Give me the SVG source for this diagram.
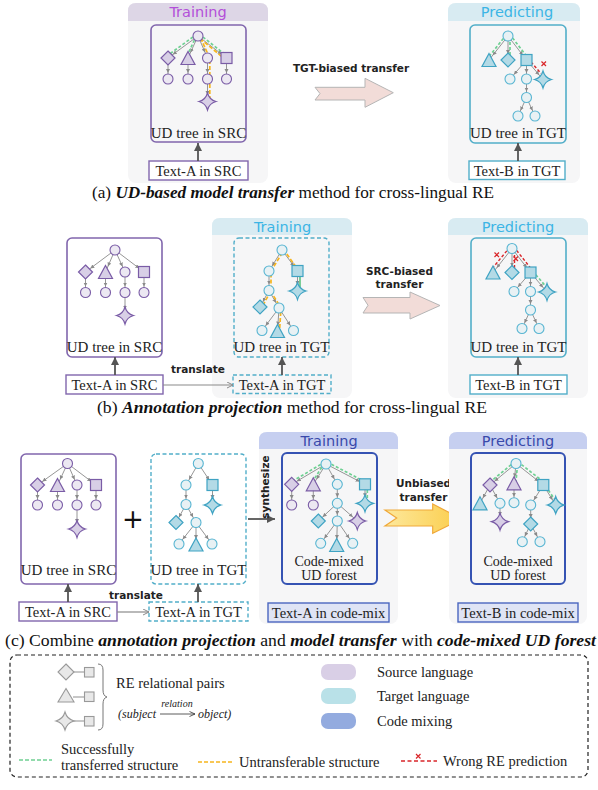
<svg xmlns="http://www.w3.org/2000/svg" width="598" height="790" viewBox="0 0 598 790">
<defs>
<style>
.s{fill:#d8cfe6;stroke:#7a5ca6;stroke-width:1.2}
.sc{fill:#ece8f2;stroke:#7a5ca6;stroke-width:1.1}
.t{fill:#b3dae6;stroke:#3fa3c3;stroke-width:1.2}
.tc{fill:#e8f1f4;stroke:#58b5d2;stroke-width:1.1}
.gr{fill:#e8e8e8;stroke:#999;stroke-width:1.1}
.e{stroke:#8a8a8a;stroke-width:0.9;fill:none;marker-end:url(#ea)}
.g{stroke:#6fd093;stroke-width:1.7;stroke-dasharray:3 2;fill:none}
.y{stroke:#f6b51e;stroke-width:1.7;stroke-dasharray:4 2;fill:none}
.r{stroke:#d9262a;stroke-width:1.4;stroke-dasharray:3 2;fill:none}
.x{stroke:#d9262a;stroke-width:1.2;fill:none}
.up{stroke:#555;stroke-width:1.8;marker-end:url(#ba)}
.tr{stroke:#8a8a8a;stroke-width:1.2;marker-end:url(#ta)}
.lbl{font-family:"Liberation Serif","Times New Roman",serif;font-size:15px;fill:#222;text-anchor:middle}
.cmx{font-family:"Liberation Serif","Times New Roman",serif;font-size:14px;fill:#222;text-anchor:middle}
.tb{font-family:"Liberation Serif","Times New Roman",serif;font-size:14.5px;fill:#222;text-anchor:middle}
.cap{font-family:"Liberation Serif","Times New Roman",serif;font-size:17px;fill:#111}
.lg{font-family:"Liberation Serif","Times New Roman",serif;font-size:14.5px;fill:#222}
.hd{font-family:"DejaVu Sans",sans-serif;font-size:14.5px;text-anchor:middle}
.cm{font-family:"DejaVu Sans",sans-serif;font-weight:bold;font-size:10.5px;fill:#222;text-anchor:middle}
.pnl{fill:#f6f6f7}
.bs{fill:none;stroke:#8166ad;stroke-width:1.6}
.bt{fill:none;stroke:#52aec9;stroke-width:1.6}
.btd{fill:none;stroke:#52aec9;stroke-width:1.4;stroke-dasharray:4 2.5}
.bc{fill:none;stroke:#3553b3;stroke-width:2}
</style>
<marker id="ea" markerUnits="userSpaceOnUse" markerWidth="5" markerHeight="5" refX="10" refY="2" orient="auto"><path d="M0,0 L4,2 L0,4Z" fill="#8a8a8a"/></marker>
<marker id="ba" markerUnits="userSpaceOnUse" markerWidth="9" markerHeight="9" refX="8" refY="4" orient="auto"><path d="M0,0 L8,4 L0,8Z" fill="#555"/></marker>
<marker id="ta" markerUnits="userSpaceOnUse" markerWidth="8" markerHeight="8" refX="6.5" refY="3.5" orient="auto"><path d="M0.5,0.5 L6.5,3.5 L0.5,6.5" fill="none" stroke="#8a8a8a" stroke-width="1"/></marker>
<marker id="la" markerUnits="userSpaceOnUse" markerWidth="7" markerHeight="7" refX="6" refY="3" orient="auto"><path d="M0.5,0.5 L6,3 L0.5,5.5" fill="none" stroke="#333" stroke-width="0.8"/></marker>
<linearGradient id="yg" x1="0" x2="1" y1="0" y2="0"><stop offset="0" stop-color="#fde89c"/><stop offset="1" stop-color="#fbcd4a"/></linearGradient>
<circle id="cir" r="5"/>
<path id="dia" d="M0,-7 L7,0 L0,7 L-7,0Z"/>
<path id="tri" d="M0,-7.5 L7,5.5 L-7,5.5Z"/>
<rect id="sq" x="-5.5" y="-5.5" width="11" height="11"/>
<path id="star" d="M0,-8.5 Q1.8,-1.8 8.5,0 Q1.8,1.8 0,8.5 Q-1.8,1.8 -8.5,0 Q-1.8,-1.8 0,-8.5Z"/>
</defs>
<rect width="598" height="790" fill="#fff"/>

<!-- ===== (a) ===== -->
<g id="a-training">
<rect class="pnl" x="128" y="3" width="140" height="180" rx="8"/>
<path d="M128,11 Q128,3 136,3 H260 Q268,3 268,11 V21 H128Z" fill="#ddd6e6"/>
<text class="hd" x="198" y="17" fill="#b34fd9">Training</text>
<rect class="bs" x="151" y="25" width="95" height="117" rx="5"/>
<g>
<line class="e" x1="198" y1="36" x2="168" y2="58"/>
<line class="e" x1="198" y1="36" x2="188" y2="58"/>
<line class="e" x1="198" y1="36" x2="207.5" y2="58"/>
<line class="e" x1="198" y1="36" x2="226.5" y2="58"/>
<line class="e" x1="168" y1="58" x2="168" y2="79"/>
<line class="e" x1="188" y1="58" x2="188" y2="79"/>
<line class="e" x1="207.5" y1="58" x2="207.5" y2="79"/>
<line class="e" x1="226.5" y1="58" x2="226.5" y2="79"/>
<line class="e" x1="207.5" y1="79" x2="207.5" y2="101"/>
<line class="g" x1="197" y1="34" x2="167" y2="56"/>
<line class="g" x1="196.5" y1="35.5" x2="186.5" y2="57"/>
<line class="g" x1="199" y1="34" x2="227" y2="56"/>
<line class="y" x1="200" y1="38.5" x2="226" y2="60"/>
<polyline class="y" points="200.5,38 209.8,58 209.8,101"/>
<use href="#cir" x="198" y="36" class="sc"/>
<use href="#dia" x="168" y="58" class="s"/>
<use href="#tri" x="188" y="59" class="s"/>
<use href="#cir" x="207.5" y="58" class="sc"/>
<use href="#sq" x="226.5" y="58" class="s"/>
<use href="#cir" x="168" y="79" class="sc"/>
<use href="#cir" x="188" y="79" class="sc"/>
<use href="#cir" x="207.5" y="79" class="sc"/>
<use href="#cir" x="226.5" y="79" class="sc"/>
<use href="#star" x="207.5" y="101.5" class="s"/>
</g>
<text class="lbl" x="198.5" y="138">UD tree in SRC</text>
<rect x="149" y="161" width="99" height="19" fill="#fff" stroke="#8166ad" stroke-width="1.4"/>
<text class="tb" x="198.5" y="175.5">Text-A in SRC</text>
<line class="up" x1="198" y1="161" x2="198" y2="143"/>
</g>

<g id="a-transfer">
<text class="cm" x="351" y="72">TGT-biased transfer</text>
<polygon points="315,87.3 365,87.3 365,78.3 393.3,92.7 365,107.3 365,100 315,100 320,93.6" fill="#f2dcd8" stroke="#b5b5b5" stroke-width="1"/>
</g>

<g id="a-predicting">
<rect class="pnl" x="448" y="3" width="132" height="180" rx="8"/>
<path d="M448,11 Q448,3 456,3 H572 Q580,3 580,11 V21 H448Z" fill="#d8ebf2"/>
<text class="hd" x="517" y="17" fill="#3cb5e5">Predicting</text>
<rect class="bt" x="470" y="25" width="96" height="118" rx="5"/>
<g>
<line class="e" x1="508" y1="36" x2="489" y2="60"/>
<line class="e" x1="508" y1="36" x2="508" y2="60"/>
<line class="e" x1="508" y1="36" x2="526.5" y2="60"/>
<line class="e" x1="526.5" y1="60" x2="510" y2="79"/>
<line class="e" x1="526.5" y1="60" x2="526.5" y2="79"/>
<line class="e" x1="526.5" y1="60" x2="543" y2="79.5"/>
<line class="e" x1="526.5" y1="79" x2="526.5" y2="97.5"/>
<line class="e" x1="526.5" y1="97.5" x2="518" y2="116"/>
<line class="e" x1="526.5" y1="97.5" x2="535" y2="116"/>
<line class="g" x1="506.5" y1="34.5" x2="487.5" y2="58.5"/>
<line class="g" x1="510" y1="37" x2="510" y2="59"/>
<line class="g" x1="509.5" y1="34" x2="528" y2="58"/>
<line class="r" x1="531" y1="62" x2="541" y2="73.5"/>
<path class="x" d="M541.5,61.5 L546,66 M546,61.5 L541.5,66"/>
<use href="#cir" x="508" y="36" class="tc"/>
<use href="#tri" x="489" y="61" class="t"/>
<use href="#dia" x="508" y="60" class="t"/>
<use href="#sq" x="526.5" y="60" class="t"/>
<use href="#cir" x="510" y="79" class="tc"/>
<use href="#cir" x="526.5" y="79" class="tc"/>
<use href="#star" x="543" y="79.5" class="t"/>
<use href="#cir" x="526.5" y="97.5" class="tc"/>
<use href="#cir" x="518" y="116" class="tc"/>
<use href="#cir" x="535" y="116" class="tc"/>
</g>
<text class="lbl" x="518" y="138">UD tree in TGT</text>
<rect x="469" y="161" width="96" height="18.5" fill="#fff" stroke="#52aec9" stroke-width="1.4"/>
<text class="tb" x="517" y="175.5">Text-B in TGT</text>
<line class="up" x1="518" y1="161" x2="518" y2="143"/>
</g>

<text class="cap" x="92" y="198" textLength="402" lengthAdjust="spacingAndGlyphs">(a) <tspan font-weight="bold" font-style="italic">UD-based model transfer</tspan> method for cross-lingual RE</text>

<!-- ===== (b) ===== -->
<g id="b-src">
<rect x="67" y="238" width="95" height="119" rx="5" fill="#fff" class="bs"/>
<line class="e" x1="115" y1="250" x2="85.5" y2="272"/>
<line class="e" x1="115" y1="250" x2="105.5" y2="272"/>
<line class="e" x1="115" y1="250" x2="125" y2="272"/>
<line class="e" x1="115" y1="250" x2="144" y2="272"/>
<line class="e" x1="85.5" y1="272" x2="85.5" y2="292.5"/>
<line class="e" x1="105.5" y1="272" x2="105.5" y2="292.5"/>
<line class="e" x1="125" y1="272" x2="125" y2="292.5"/>
<line class="e" x1="144" y1="272" x2="144" y2="292.5"/>
<line class="e" x1="125" y1="292.5" x2="125" y2="315.5"/>
<use href="#cir" x="115" y="250" class="sc"/>
<use href="#dia" x="85.5" y="272" class="s"/>
<use href="#tri" x="105.5" y="273" class="s"/>
<use href="#cir" x="125" y="272" class="sc"/>
<use href="#sq" x="144" y="272" class="s"/>
<use href="#cir" x="85.5" y="292.5" class="sc"/>
<use href="#cir" x="105.5" y="292.5" class="sc"/>
<use href="#cir" x="125" y="292.5" class="sc"/>
<use href="#cir" x="144" y="292.5" class="sc"/>
<use href="#star" x="125" y="315.5" class="s"/>
<text class="lbl" x="114.5" y="352">UD tree in SRC</text>
<rect x="66" y="375" width="97" height="19" fill="#fff" stroke="#8166ad" stroke-width="1.4"/>
<text class="tb" x="114.5" y="389.5">Text-A in SRC</text>
<line class="up" x1="115" y1="375" x2="115" y2="357"/>
</g>

<g id="b-training">
<rect class="pnl" x="212" y="218" width="140" height="180" rx="8"/>
<path d="M212,226 Q212,218 220,218 H344 Q352,218 352,226 V235 H212Z" fill="#d8ebf2"/>
<text class="hd" x="282.5" y="232" fill="#3cb5e5">Training</text>
<rect class="btd" x="234" y="238" width="95" height="119" rx="5"/>
<line class="e" x1="282" y1="250" x2="269" y2="271"/>
<line class="e" x1="282" y1="250" x2="297.5" y2="271"/>
<line class="e" x1="269" y1="271" x2="269" y2="290.5"/>
<line class="e" x1="297.5" y1="271" x2="297.5" y2="291"/>
<line class="e" x1="269" y1="290.5" x2="260" y2="307"/>
<line class="e" x1="269" y1="290.5" x2="279" y2="308"/>
<line class="e" x1="279" y1="308" x2="262" y2="330.5"/>
<line class="e" x1="279" y1="308" x2="277.5" y2="331.5"/>
<line class="e" x1="279" y1="308" x2="293.5" y2="330.5"/>
<polyline class="y" points="299.5,272 284,250 271,271 271,290.5 262,307"/>
<polyline class="y" points="270.5,291 281,308 279.5,331"/>
<line x1="300" y1="271" x2="300" y2="291" stroke="#5cc47f" stroke-width="1.6"/>
<use href="#cir" x="282" y="250" class="tc"/>
<use href="#cir" x="269" y="271" class="tc"/>
<use href="#sq" x="297.5" y="271" class="t"/>
<use href="#cir" x="269" y="290.5" class="tc"/>
<use href="#star" x="297.5" y="291" class="t"/>
<use href="#dia" x="260" y="307" class="t"/>
<use href="#cir" x="279" y="308" class="tc"/>
<use href="#cir" x="262" y="330.5" class="tc"/>
<use href="#tri" x="277.5" y="332" class="t"/>
<use href="#cir" x="293.5" y="330.5" class="tc"/>
<text class="lbl" x="281.5" y="352">UD tree in TGT</text>
<rect x="233" y="375" width="98" height="18.5" fill="#f3f9fb" class="btd"/>
<text class="tb" x="282" y="389.5">Text-A in TGT</text>
<line class="up" x1="282" y1="375" x2="282" y2="357"/>
</g>

<g id="b-transfer">
<text class="cm" x="399.5" y="275">SRC-biased</text>
<text class="cm" x="399.5" y="288">transfer</text>
<polygon points="363,297.5 410,297.5 410,292 440,305.5 410,319 410,313 363,313 368,305.3" fill="#f2dcd8" stroke="#b5b5b5" stroke-width="1"/>
</g>

<g id="b-predicting">
<rect class="pnl" x="448" y="218" width="140" height="180" rx="8"/>
<path d="M448,226 Q448,218 456,218 H580 Q588,218 588,226 V235 H448Z" fill="#d8ebf2"/>
<text class="hd" x="518" y="232" fill="#3cb5e5">Predicting</text>
<rect class="bt" x="471" y="238" width="95" height="119" rx="5"/>
<line class="e" x1="512" y1="248.5" x2="493" y2="272.5"/>
<line class="e" x1="512" y1="248.5" x2="512" y2="272.5"/>
<line class="e" x1="512" y1="248.5" x2="530.5" y2="272.5"/>
<line class="e" x1="530.5" y1="272.5" x2="514" y2="291.5"/>
<line class="e" x1="530.5" y1="272.5" x2="530.5" y2="291.5"/>
<line class="e" x1="530.5" y1="272.5" x2="547" y2="292"/>
<line class="e" x1="530.5" y1="291.5" x2="530.5" y2="310"/>
<line class="e" x1="530.5" y1="310" x2="522" y2="328.5"/>
<line class="e" x1="530.5" y1="310" x2="539" y2="328.5"/>
<line class="r" x1="510" y1="247" x2="491" y2="270"/>
<line class="r" x1="514.5" y1="250" x2="514.5" y2="271"/>
<line class="r" x1="513.5" y1="246.5" x2="532.5" y2="270.5"/>
<line class="g" x1="532.5" y1="271" x2="549" y2="290"/>
<path class="x" d="M494.5,252.5 L499,257 M499,252.5 L494.5,257"/>
<path class="x" d="M513.5,256.5 L518,261 M518,256.5 L513.5,261"/>
<use href="#cir" x="512" y="248.5" class="tc"/>
<use href="#tri" x="493" y="273.5" class="t"/>
<use href="#dia" x="512" y="272.5" class="t"/>
<use href="#sq" x="530.5" y="272.5" class="t"/>
<use href="#cir" x="514" y="291.5" class="tc"/>
<use href="#cir" x="530.5" y="291.5" class="tc"/>
<use href="#star" x="547" y="292" class="t"/>
<use href="#cir" x="530.5" y="310" class="tc"/>
<use href="#cir" x="522" y="328.5" class="tc"/>
<use href="#cir" x="539" y="328.5" class="tc"/>
<text class="lbl" x="518.5" y="352">UD tree in TGT</text>
<rect x="470" y="375" width="97" height="19" fill="#fff" stroke="#52aec9" stroke-width="1.4"/>
<text class="tb" x="518.5" y="389.5">Text-B in TGT</text>
<line class="up" x1="518" y1="375" x2="518" y2="357"/>
</g>

<g id="b-translate">
<line class="tr" x1="163" y1="385" x2="233" y2="385"/>
<text class="cm" x="198" y="373">translate</text>
</g>

<text class="cap" x="97" y="413" textLength="390" lengthAdjust="spacingAndGlyphs">(b) <tspan font-weight="bold" font-style="italic">Annotation projection</tspan> method for cross-lingual RE</text>

<!-- ===== (c) ===== -->
<g id="c-src">
<rect x="21" y="454" width="95" height="130" rx="5" fill="#fff" class="bs"/>
<line class="e" x1="67.5" y1="463.5" x2="37.5" y2="485"/>
<line class="e" x1="67.5" y1="463.5" x2="57.5" y2="485"/>
<line class="e" x1="67.5" y1="463.5" x2="77" y2="485"/>
<line class="e" x1="67.5" y1="463.5" x2="96" y2="485"/>
<line class="e" x1="37.5" y1="485" x2="37.5" y2="505"/>
<line class="e" x1="57.5" y1="485" x2="57.5" y2="505"/>
<line class="e" x1="77" y1="485" x2="77" y2="505"/>
<line class="e" x1="96" y1="485" x2="96" y2="505"/>
<line class="e" x1="77" y1="505" x2="77" y2="529"/>
<use href="#cir" x="67.5" y="463.5" class="sc"/>
<use href="#dia" x="37.5" y="485" class="s"/>
<use href="#tri" x="57.5" y="486" class="s"/>
<use href="#cir" x="77" y="485" class="sc"/>
<use href="#sq" x="96" y="485" class="s"/>
<use href="#cir" x="37.5" y="505" class="sc"/>
<use href="#cir" x="57.5" y="505" class="sc"/>
<use href="#cir" x="77" y="505" class="sc"/>
<use href="#cir" x="96" y="505" class="sc"/>
<use href="#star" x="77" y="529" class="s"/>
<text class="lbl" x="68.5" y="575">UD tree in SRC</text>
<rect x="19" y="602" width="98" height="19" fill="#fff" stroke="#8166ad" stroke-width="1.4"/>
<text class="tb" x="68" y="616.5">Text-A in SRC</text>
<line class="up" x1="68" y1="602" x2="68" y2="584"/>
</g>

<text x="133" y="528" font-family="DejaVu Sans, sans-serif" font-size="26" text-anchor="middle" fill="#111">+</text>

<g id="c-tgt">
<rect x="151" y="454" width="95" height="130" rx="5" fill="#fff" class="btd"/>
<line class="e" x1="198.3" y1="463.5" x2="186" y2="485"/>
<line class="e" x1="198.3" y1="463.5" x2="212.5" y2="485"/>
<line class="e" x1="186" y1="485" x2="186" y2="504.5"/>
<line class="e" x1="212.5" y1="485" x2="212.5" y2="505"/>
<line class="e" x1="186" y1="504.5" x2="176" y2="522.5"/>
<line class="e" x1="186" y1="504.5" x2="196" y2="522.5"/>
<line class="e" x1="196" y1="522.5" x2="179" y2="544"/>
<line class="e" x1="196" y1="522.5" x2="196" y2="545"/>
<line class="e" x1="196" y1="522.5" x2="212" y2="544"/>
<use href="#cir" x="198.3" y="463.5" class="tc"/>
<use href="#cir" x="186" y="485" class="tc"/>
<use href="#sq" x="212.5" y="485" class="t"/>
<use href="#cir" x="186" y="504.5" class="tc"/>
<use href="#star" x="212.5" y="505" class="t"/>
<use href="#dia" x="176" y="522.5" class="t"/>
<use href="#cir" x="196" y="522.5" class="tc"/>
<use href="#cir" x="179" y="544" class="tc"/>
<use href="#tri" x="196" y="545.5" class="t"/>
<use href="#cir" x="212" y="544" class="tc"/>
<text class="lbl" x="198.5" y="575">UD tree in TGT</text>
<rect x="149" y="602" width="99" height="19" fill="#eef8fb" class="btd"/>
<text class="tb" x="198.5" y="616.5">Text-A in TGT</text>
<line class="up" x1="198" y1="602" x2="198" y2="584"/>
</g>

<g id="c-translate">
<line class="tr" x1="117" y1="612" x2="149" y2="612"/>
<text class="cm" x="136" y="599">translate</text>
</g>

<g id="c-training">
<rect class="pnl" x="259" y="432" width="139" height="192" rx="8"/>
<path d="M259,440 Q259,432 267,432 H390 Q398,432 398,440 V449 H259Z" fill="#c6cff0"/>
<text class="hd" x="329" y="446" fill="#3949ab">Training</text>
<rect class="bc" x="282" y="453" width="95" height="131" rx="5"/>
<line class="e" x1="326" y1="464" x2="291.7" y2="484.3"/>
<line class="e" x1="326" y1="464" x2="313.3" y2="484.3"/>
<line class="e" x1="326" y1="464" x2="337.3" y2="484.3"/>
<line class="e" x1="326" y1="464" x2="365" y2="484.3"/>
<line class="e" x1="291.7" y1="484.3" x2="291.7" y2="505"/>
<line class="e" x1="313.3" y1="484.3" x2="313.3" y2="505"/>
<line class="e" x1="337.3" y1="484.3" x2="337.3" y2="503.3"/>
<line class="e" x1="365" y1="484.3" x2="365" y2="503.3"/>
<line class="e" x1="337.3" y1="503.3" x2="318.3" y2="521"/>
<line class="e" x1="337.3" y1="503.3" x2="337.3" y2="521"/>
<line class="e" x1="337.3" y1="503.3" x2="357.3" y2="521"/>
<line class="e" x1="337.3" y1="521" x2="320.7" y2="543.3"/>
<line class="e" x1="337.3" y1="521" x2="336.7" y2="545"/>
<line class="e" x1="337.3" y1="521" x2="352.7" y2="543.3"/>
<line class="g" x1="325" y1="462" x2="291" y2="482"/>
<line class="g" x1="324.5" y1="463" x2="312" y2="482.5"/>
<line class="g" x1="327" y1="462" x2="366" y2="482.3"/>
<line class="g" x1="367.3" y1="485" x2="367.3" y2="503"/>
<use href="#cir" x="326" y="464" class="tc"/>
<use href="#dia" x="291.7" y="484.3" class="s"/>
<use href="#tri" x="313.3" y="485.3" class="s"/>
<use href="#cir" x="337.3" y="484.3" class="tc"/>
<use href="#sq" x="365" y="484.3" class="t"/>
<use href="#cir" x="291.7" y="505" class="sc"/>
<use href="#cir" x="313.3" y="505" class="sc"/>
<use href="#cir" x="337.3" y="503.3" class="tc"/>
<use href="#star" x="365" y="503.3" class="t"/>
<use href="#dia" x="318.3" y="521" class="t"/>
<use href="#cir" x="337.3" y="521" class="tc"/>
<use href="#star" x="357.3" y="521" class="s"/>
<use href="#cir" x="320.7" y="543.3" class="tc"/>
<use href="#tri" x="336.7" y="546" class="t"/>
<use href="#cir" x="352.7" y="543.3" class="tc"/>
<text class="cmx" x="329" y="565.5">Code-mixed</text>
<text class="cmx" x="329" y="580">UD forest</text>
<rect x="268" y="603" width="121" height="19" fill="#dfe4f5" stroke="#4a66bf" stroke-width="1.4"/>
<text class="tb" x="328.5" y="617.5">Text-A in code-mix</text>
</g>

<g id="c-synthesize">
<line class="up" x1="248" y1="519" x2="275" y2="519"/>
<text class="cm" transform="translate(269,487) rotate(-90)" x="0" y="0">synthesize</text>
</g>

<g id="c-transfer">
<text class="cm" x="423.5" y="487">Unbiased</text>
<text class="cm" x="423.5" y="501">transfer</text>
<polygon points="385,510 432.7,510 432.7,504 461.7,519 432.7,533.3 432.7,526 385,526 396.7,518" fill="url(#yg)" stroke="#f0a93a" stroke-width="1.2"/>
</g>

<g id="c-predicting">
<rect class="pnl" x="449" y="432" width="138" height="192" rx="8"/>
<path d="M449,440 Q449,432 457,432 H579 Q587,432 587,440 V449 H449Z" fill="#c6cff0"/>
<text class="hd" x="518" y="446" fill="#3949ab">Predicting</text>
<rect class="bc" x="471" y="453" width="94" height="131" rx="5"/>
<line class="e" x1="516" y1="463.5" x2="490" y2="485"/>
<line class="e" x1="516" y1="463.5" x2="514" y2="483.3"/>
<line class="e" x1="516" y1="463.5" x2="543.3" y2="485"/>
<line class="e" x1="490" y1="485" x2="480" y2="503.3"/>
<line class="e" x1="490" y1="485" x2="500" y2="503.3"/>
<line class="e" x1="514" y1="483.3" x2="514" y2="502.7"/>
<line class="e" x1="543.3" y1="485" x2="530.7" y2="505"/>
<line class="e" x1="543.3" y1="485" x2="555.7" y2="505"/>
<line class="e" x1="500" y1="503.3" x2="500" y2="521.7"/>
<line class="e" x1="530.7" y1="505" x2="530.7" y2="524"/>
<line class="e" x1="530.7" y1="524" x2="522.3" y2="541.7"/>
<line class="e" x1="530.7" y1="524" x2="540" y2="541.7"/>
<line class="g" x1="515" y1="461.5" x2="489" y2="483"/>
<line class="g" x1="517.5" y1="465" x2="516" y2="481"/>
<line class="g" x1="517.5" y1="461.5" x2="545" y2="483"/>
<line class="g" x1="545.5" y1="486" x2="557.5" y2="503.5"/>
<use href="#cir" x="516" y="463.5" class="tc"/>
<use href="#dia" x="490" y="485" class="s"/>
<use href="#tri" x="514" y="484.3" class="s"/>
<use href="#sq" x="543.3" y="485" class="t"/>
<use href="#tri" x="480" y="504.3" class="t"/>
<use href="#cir" x="500" y="503.3" class="tc"/>
<use href="#cir" x="514" y="502.7" class="tc"/>
<use href="#cir" x="530.7" y="505" class="tc"/>
<use href="#star" x="555.7" y="505" class="t"/>
<use href="#star" x="500" y="521.7" class="s"/>
<use href="#dia" x="530.7" y="524" class="t"/>
<use href="#cir" x="522.3" y="541.7" class="tc"/>
<use href="#cir" x="540" y="541.7" class="tc"/>
<text class="cmx" x="518" y="565.5">Code-mixed</text>
<text class="cmx" x="518" y="580">UD forest</text>
<rect x="458" y="603" width="120" height="19" fill="#dfe4f5" stroke="#4a66bf" stroke-width="1.4"/>
<text class="tb" x="518" y="617.5">Text-B in code-mix</text>
</g>

<text class="cap" x="5" y="646" textLength="591" lengthAdjust="spacingAndGlyphs">(c) Combine <tspan font-weight="bold" font-style="italic">annotation projection</tspan> and <tspan font-weight="bold" font-style="italic">model transfer</tspan> with <tspan font-weight="bold" font-style="italic">code-mixed UD forest</tspan></text>

<!-- ===== Legend ===== -->
<g id="legend">
<rect x="10" y="655" width="578" height="122" rx="7" fill="none" stroke="#222" stroke-width="1.2" stroke-dasharray="4 3"/>
<line x1="73" y1="672" x2="85" y2="672" stroke="#999" stroke-width="1.1"/>
<line x1="73" y1="697" x2="85" y2="697" stroke="#999" stroke-width="1.1"/>
<line x1="73" y1="721" x2="85" y2="721" stroke="#999" stroke-width="1.1"/>
<path class="gr" d="M66,664 L74,672 L66,680 L58,672Z"/>
<path class="gr" d="M66,688.5 L74,702 L58,702Z"/>
<path class="gr" d="M65,712 Q67,719 74,721 Q67,723 65,730 Q63,723 56,721 Q63,719 65,712Z"/>
<rect class="gr" x="84.5" y="667.5" width="9.5" height="9.5"/>
<rect class="gr" x="84.5" y="692" width="9.5" height="9.5"/>
<rect class="gr" x="84.5" y="716.5" width="9.5" height="9.5"/>
<path d="M98,664 Q103,664 103,670 L103,690 Q103,696 107,697 Q103,698 103,704 L103,724 Q103,730 98,730" fill="none" stroke="#777" stroke-width="1"/>
<text class="lg" x="116" y="688">RE relational pairs</text>
<text x="118" y="718" font-family="Liberation Serif, serif" font-size="12" font-style="italic" fill="#222">(subject</text>
<line x1="160" y1="714" x2="195" y2="714" stroke="#333" stroke-width="0.8" marker-end="url(#la)"/>
<text x="177" y="707" font-family="Liberation Serif, serif" font-size="10" font-style="italic" fill="#222" text-anchor="middle">relation</text>
<text x="198" y="718" font-family="Liberation Serif, serif" font-size="12" font-style="italic" fill="#222">object)</text>
<rect x="321" y="664" width="35" height="16" rx="7" fill="#d9cfe6"/>
<rect x="321" y="688" width="35" height="16" rx="7" fill="#b9e1e8"/>
<rect x="321" y="713" width="35" height="16" rx="7" fill="#93abdf"/>
<text class="lg" x="377" y="677">Source language</text>
<text class="lg" x="377" y="701">Target language</text>
<text class="lg" x="377" y="726">Code mixing</text>
<line x1="19" y1="760" x2="52" y2="760" stroke="#6fd093" stroke-width="1.6" stroke-dasharray="4 2"/>
<text class="lg" x="61" y="754">Successfully</text>
<text class="lg" x="61" y="770">transferred structure</text>
<line x1="198" y1="762" x2="233" y2="762" stroke="#f6b51e" stroke-width="1.6" stroke-dasharray="4 2"/>
<text class="lg" x="239" y="767">Untransferable structure</text>
<line x1="401" y1="761" x2="437" y2="761" stroke="#d9262a" stroke-width="1.4" stroke-dasharray="4 2.5"/>
<path class="x" d="M416,754 L420.5,758.5 M420.5,754 L416,758.5"/>
<text class="lg" x="443" y="766">Wrong RE prediction</text>
</g>
</svg>
